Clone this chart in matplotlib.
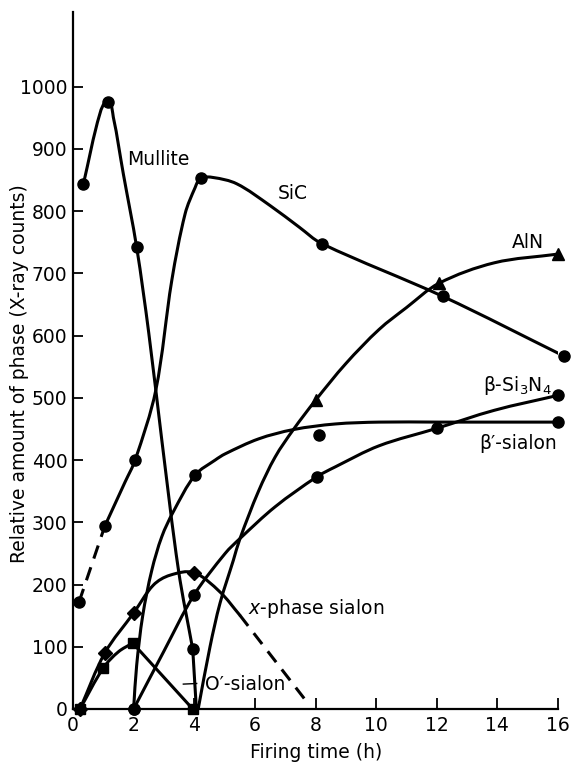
import matplotlib
matplotlib.use("Agg")
import matplotlib.pyplot as plt
from matplotlib.path import Path
from matplotlib.patches import PathPatch

plt.rcParams['font.family'] = ['DejaVu Sans']
plt.rcParams['mathtext.fontset'] = 'dejavusans'

# measured points (firing time h, X-ray counts)
mullite_x = [0.34, 1.15, 2.1, 3.95]
mullite_y = [843, 975, 742, 96]
sic_x = [0.2, 1.05, 2.05, 4.21, 8.2, 12.2, 16.2]
sic_y = [172, 294, 400, 853, 748, 663, 567]
aln_x = [8.0, 12.07, 16.0]
aln_y = [496, 684, 731]
bsialon_x = [2.0, 4.03, 8.1, 16.0]
bsialon_y = [0, 376, 441, 461]
si3n4_x = [2.0, 3.99, 8.04, 12.0, 16.0]
si3n4_y = [0, 183, 373, 451, 504]
osialon_x = [0.23, 1.0, 1.97, 3.95]
osialon_y = [0, 66, 106, 0]
xphase_x = [0.23, 1.05, 2.01, 3.99]
xphase_y = [0, 90, 155, 219]

# hand-drawn curves
mullite_cx = [0.34, 0.89, 1.15, 1.33, 1.66, 2.1, 2.5, 2.93, 3.48, 3.95]
mullite_cy = [843, 957, 975, 951, 860, 742, 604, 432, 223, 96]
mullite_end_x = [3.95, 4.07]
mullite_end_y = [96, 0]
sic_dash_x = [0.2, 1.05]
sic_dash_y = [172, 294]
sic_cx = [1.05, 1.72, 2.05, 2.73, 3.26, 3.7, 4.03, 4.21, 4.63, 5.4, 6.5, 7.47, 8.2, 12.2, 16.2]
sic_cy = [294, 365, 400, 512, 689, 796, 838, 853, 854, 844, 809, 774, 748, 663, 567]
aln_cx = [4.13, 4.52, 4.85, 5.29, 5.51, 6.12, 6.67, 7.27, 8.0, 9.0, 10.1, 11.0, 12.07, 13.9, 16.0]
aln_cy = [0, 100, 170, 239, 274, 350, 405, 449, 496, 555, 610, 645, 684, 717, 731]
bsialon_cx = [2.0, 2.1, 2.3, 2.6, 2.93, 3.31, 4.03, 4.69, 5.02, 6.12, 7.27, 8.65, 10.1, 12.07, 16.0]
bsialon_cy = [0, 70, 150, 223, 277, 317, 376, 400, 410, 434, 449, 458, 461, 461, 461]
si3n4_cx = [2.0, 3.0, 3.99, 5.02, 5.51, 6.67, 8.04, 8.65, 10.1, 12.0, 13.9, 16.0]
si3n4_cy = [0, 93, 183, 250, 274, 325, 373, 389, 423, 451, 480, 504]
osialon_cx = [0.23, 1.0, 1.5, 1.97]
osialon_cy = [0, 66, 92, 106]
osialon_down_x = [1.97, 3.95]
osialon_down_y = [106, 0]
xphase_cx = [0.23, 1.05, 2.01, 2.65, 3.2, 3.99, 4.85, 5.5]
xphase_cy = [0, 90, 155, 199, 215, 219, 188, 151]
xphase_dash_x = [5.5, 7.8]
xphase_dash_y = [151, 6]

YSCALE = 0.623 / 30.3  # counts -> hours, so both axes share a pixel scale


def smooth_path(xs, ys):
    # Hermite curve through the traced points, tangents scaled by chord length
    pts = [(x, y * YSCALE) for x, y in zip(xs, ys)]
    n = len(pts)
    tans = []
    for i in range(n):
        a = pts[max(i - 1, 0)]
        b = pts[min(i + 1, n - 1)]
        dx, dy = b[0] - a[0], b[1] - a[1]
        d = (dx * dx + dy * dy) ** 0.5
        tans.append((dx / d, dy / d))
    verts = [pts[0]]
    codes = [Path.MOVETO]
    for i in range(n - 1):
        p1, p2 = pts[i], pts[i + 1]
        L = ((p2[0] - p1[0]) ** 2 + (p2[1] - p1[1]) ** 2) ** 0.5 / 3
        c1 = (p1[0] + tans[i][0] * L, p1[1] + tans[i][1] * L)
        c2 = (p2[0] - tans[i + 1][0] * L, p2[1] - tans[i + 1][1] * L)
        verts += [c1, c2, p2]
        codes += [Path.CURVE4] * 3
    verts = [(x, y / YSCALE) for x, y in verts]
    return Path(verts, codes)


fig = plt.figure(figsize=(5.73, 7.63), dpi=100)
ax = fig.add_axes([73 / 573, 1 - 709 / 763, 485 / 573, 697 / 763])

lw = 2.2
for cx, cy in [(mullite_cx, mullite_cy), (sic_cx, sic_cy), (aln_cx, aln_cy),
               (bsialon_cx, bsialon_cy), (si3n4_cx, si3n4_cy),
               (osialon_cx, osialon_cy), (xphase_cx, xphase_cy)]:
    ax.add_patch(PathPatch(smooth_path(cx, cy), fill=False, edgecolor='black',
                           lw=lw, joinstyle='round', capstyle='round', zorder=2))
for cx, cy in [(osialon_down_x, osialon_down_y), (mullite_end_x, mullite_end_y)]:
    ax.plot(cx, cy, color='black', lw=lw, solid_capstyle='round', zorder=2)
for cx, cy in [(sic_dash_x, sic_dash_y), (xphase_dash_x, xphase_dash_y)]:
    ax.plot(cx, cy, color='black', lw=lw, dashes=(4.5, 3), zorder=2)

mk = dict(color='black', ls='none', clip_on=False, zorder=3)
ax.plot(mullite_x, mullite_y, marker='o', ms=8, **mk)
ax.plot(sic_x, sic_y, marker='o', ms=8, **mk)
ax.plot(bsialon_x, bsialon_y, marker='o', ms=8, **mk)
ax.plot(si3n4_x, si3n4_y, marker='o', ms=8, **mk)
ax.plot(aln_x, aln_y, marker='^', ms=8, **mk)
ax.plot(osialon_x, osialon_y, marker='s', ms=7.5, **mk)
ax.plot(xphase_x, xphase_y, marker='D', ms=7, **mk)

# labels on the curves
fs = 13.5
ax.text(1.78, 883, 'Mullite', fontsize=fs, va='center', ha='left')
ax.text(7.24, 828, 'SiC', fontsize=fs, va='center', ha='center')
ax.text(15.0, 750, 'AlN', fontsize=fs, va='center', ha='center')
ax.text(15.8, 520, r'β-Si$_3$N$_4$', fontsize=fs, va='center', ha='right')
ax.text(15.98, 427, 'β′-sialon', fontsize=fs, va='center', ha='right')
ax.text(5.77, 162, r'$x$-phase sialon', fontsize=fs, va='center', ha='left')
ax.text(4.35, 39, 'O′-sialon', fontsize=fs, va='center', ha='left')
ax.plot([3.64, 4.08], [40, 41], color='black', lw=1)

ax.set_xlim(0, 16)
ax.set_ylim(0, 1120)
ax.set_xticks(range(0, 17, 2))
ax.set_yticks(range(0, 1001, 100))
ax.spines['top'].set_visible(False)
ax.spines['right'].set_visible(False)
ax.spines['left'].set_linewidth(1.6)
ax.spines['bottom'].set_linewidth(1.6)
ax.tick_params(axis='both', direction='in', width=1.3, labelsize=fs)
ax.tick_params(axis='x', length=8, pad=5)
ax.tick_params(axis='y', length=7, pad=4)

fig.text(20 / 573, 1 - 374 / 763, 'Relative amount of phase (X-ray counts)',
         rotation=90, fontsize=fs, ha='center', va='center')
fig.text(316 / 573, 1 - 752 / 763, 'Firing time (h)', fontsize=fs, ha='center', va='center')

fig.savefig('out.png', dpi=100)
